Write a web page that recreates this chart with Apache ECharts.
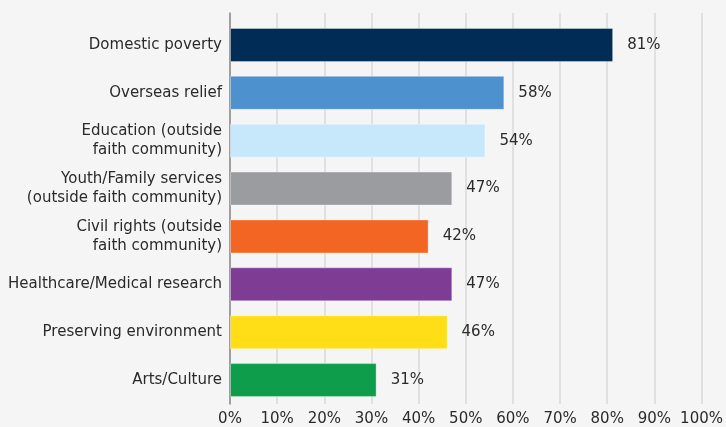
<!DOCTYPE html>
<html>
<head>
<meta charset="utf-8">
<script src="https://cdn.jsdelivr.net/npm/echarts@6/dist/echarts.min.js"></script>
<style>
  html, body { margin: 0; padding: 0; background: #f5f5f5; }
  #chart { width: 726px; height: 427px; }
</style>
</head>
<body>
<div id="chart"></div>
<script>
// categories, top to bottom
const causes = [
    "Domestic poverty",
    "Overseas relief",
    "Education (outside\nfaith community)",
    "Youth/Family services\n(outside faith community)",
    "Civil rights (outside\nfaith community)",
    "Healthcare/Medical research",
    "Preserving environment",
    "Arts/Culture",
]
const shares = [81, 58, 54, 47, 42, 47, 46, 31]
const barColors = ["#002c55", "#4e91cf", "#c6e8fa", "#9b9c9f", "#f36523", "#7e3c95", "#ffde17", "#0e9e4b"]
const xTicks = [0, 10, 20, 30, 40, 50, 60, 70, 80, 90, 100]

const font = "'DejaVu Sans', 'Liberation Sans', sans-serif"
const chart = echarts.init(document.getElementById("chart"))

chart.setOption({
    animation: false,
    backgroundColor: "#f5f5f5",
    grid: [
        // background grid: gridlines, x labels, y axis line
        { left: 230, right: 23, top: 13, bottom: 23 },
        // bars
        { left: 230, right: 23, top: 21, bottom: 23 },
    ],
    xAxis: [
        {
            gridIndex: 0,
            type: "value",
            min: xTicks[0],
            max: xTicks[xTicks.length - 1],
            interval: 10,
            axisLine: { show: false },
            axisTick: { show: false },
            axisLabel: {
                margin: 8,
                fontSize: 15,
                fontFamily: font,
                color: "#2a2a2a",
                formatter: "{value}%",
            },
            splitLine: { show: true, lineStyle: { color: "#d8d8d8", width: 1.5 } },
        },
        {
            gridIndex: 1,
            type: "value",
            min: 0,
            max: 100,
            show: false,
        },
    ],
    yAxis: [
        {
            gridIndex: 0,
            type: "value",
            min: 0,
            max: 1,
            axisLine: { show: true, lineStyle: { color: "#8a8a8a", width: 1.5 } },
            axisTick: { show: false },
            axisLabel: { show: false },
            splitLine: { show: false },
        },
        {
            gridIndex: 1,
            type: "category",
            inverse: true,
            data: causes,
            axisLine: { show: false },
            axisTick: { show: false },
            axisLabel: {
                margin: 8,
                fontSize: 15,
                lineHeight: 19,
                fontFamily: font,
                color: "#2a2a2a",
                align: "right",
            },
        },
    ],
    series: [
        {
            type: "bar",
            xAxisIndex: 1,
            yAxisIndex: 1,
            barWidth: 34,
            data: shares.map((v, i) => ({
                value: v,
                itemStyle: { color: barColors[i], borderColor: "rgba(255,255,255,0.35)", borderWidth: 1 },
            })),
            label: {
                show: true,
                position: "right",
                distance: 14,
                fontSize: 15,
                fontFamily: font,
                color: "#2a2a2a",
                formatter: "{c}%",
            },
        },
    ],
})
</script>
</body>
</html>
